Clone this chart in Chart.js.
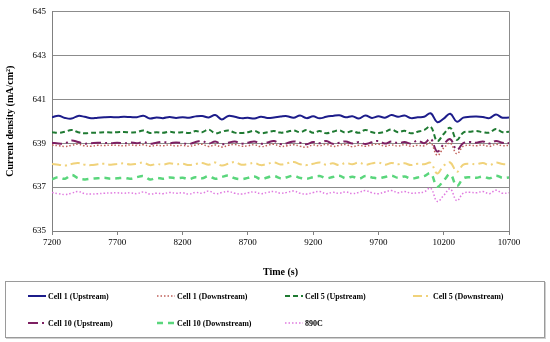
<!DOCTYPE html>
<html>
<head>
<meta charset="utf-8">
<script src="https://cdn.jsdelivr.net/npm/chart.js@4/dist/chart.umd.min.js"></script>
<style>
    html, body { margin: 0; padding: 0; background: #fff; }
    #wrap { position: relative; width: 550px; height: 342px; }
    #chartBox { position: absolute; left: 0; top: 0; width: 550px; height: 282px; }
    #legend {
        position: absolute; left: 5px; top: 281px; width: 538px; height: 55px;
        border: 1px solid #9a9a9a; box-shadow: 1px 1px 0 #cfcfcf;
        font-family: 'Liberation Serif', serif; font-size: 8px; font-weight: bold; color: #000;
    }
    .item { position: absolute; height: 12px; display: flex; align-items: center; white-space: nowrap; }
    .item svg { margin-right: 2px; }
</style>
</head>
<body>
<div id="wrap">
    <div id="chartBox"><canvas id="myChart" width="550" height="282"></canvas></div>
    <div id="legend"></div>
</div>
<script>
// time axis (s)
const times = [
    7200, 7250, 7300, 7350, 7400, 7450, 7500, 7550, 7600, 7650,
    7700, 7750, 7800, 7850, 7900, 7950, 8000, 8050, 8100, 8150,
    8200, 8250, 8300, 8350, 8400, 8450, 8500, 8550, 8600, 8650,
    8700, 8750, 8800, 8850, 8900, 8950, 9000, 9050, 9100, 9150,
    9200, 9250, 9300, 9350, 9400, 9450, 9500, 9550, 9600, 9650,
    9700, 9750, 9800, 9850, 9900, 9950, 10000, 10050, 10100, 10150,
    10200, 10250, 10300, 10350, 10400, 10450, 10500, 10550, 10600, 10650,
    10700
];

const xTicks = [7200, 7700, 8200, 8700, 9200, 9700, 10200, 10700];
const yTicks = [635, 637, 639, 641, 643, 645];

const cell1Up = [
    640.18, 640.25, 640.15, 640.12, 640.24, 640.20, 640.13, 640.16, 640.18, 640.19,
    640.18, 640.20, 640.19, 640.18, 640.25, 640.12, 640.17, 640.14, 640.19, 640.15,
    640.18, 640.16, 640.22, 640.24, 640.17, 640.28, 640.08, 640.24, 640.20, 640.14,
    640.16, 640.12, 640.20, 640.15, 640.17, 640.21, 640.23, 640.16, 640.26, 640.14,
    640.22, 640.13, 640.20, 640.24, 640.27, 640.18, 640.23, 640.12, 640.26, 640.15,
    640.22, 640.16, 640.28, 640.20, 640.26, 640.14, 640.18, 640.20, 640.36, 639.96,
    640.12, 640.34, 639.98, 640.16, 640.20, 640.21, 640.19, 640.14, 640.30, 640.16,
    640.17
];

const cell1Down = [
    638.92, 638.88, 638.85, 638.90, 638.95, 638.88, 638.86, 638.90, 638.89, 638.91,
    638.90, 638.88, 638.92, 638.89, 638.93, 638.86, 638.90, 638.88, 638.92, 638.87,
    638.90, 638.86, 638.92, 638.95, 638.85, 638.92, 638.82, 638.90, 638.94, 638.86,
    638.88, 638.93, 638.84, 638.90, 638.95, 638.85, 638.88, 638.93, 638.86, 638.82,
    638.92, 638.88, 638.95, 638.85, 638.90, 638.94, 638.84, 638.90, 638.86, 638.92,
    638.95, 638.86, 638.92, 638.87, 638.93, 638.86, 638.90, 638.88, 639.02, 638.45,
    638.78, 639.00, 638.52, 638.86, 638.90, 638.88, 638.92, 638.85, 638.95, 638.88,
    638.90
];

const cell5Up = [
    639.50, 639.47, 639.52, 639.60, 639.50, 639.45, 639.47, 639.48, 639.50, 639.49,
    639.50, 639.51, 639.49, 639.50, 639.58, 639.46, 639.50, 639.47, 639.52, 639.48,
    639.50, 639.46, 639.55, 639.50, 639.62, 639.45, 639.52, 639.58, 639.48, 639.46,
    639.50, 639.56, 639.45, 639.50, 639.55, 639.48, 639.52, 639.58, 639.50, 639.60,
    639.47, 639.55, 639.45, 639.52, 639.58, 639.48, 639.55, 639.47, 639.60, 639.50,
    639.46, 639.52, 639.62, 639.50, 639.56, 639.45, 639.52, 639.60, 639.75, 639.10,
    639.42, 639.70, 639.15, 639.48, 639.52, 639.55, 639.50, 639.48, 639.65, 639.50,
    639.52
];

const cell5Down = [
    638.05, 638.02, 637.98, 638.05, 638.10, 638.02, 638.00, 638.04, 638.06, 638.02,
    638.05, 638.08, 638.03, 638.06, 638.12, 638.00, 638.05, 638.02, 638.08, 638.04,
    638.06, 638.00, 638.05, 638.10, 638.02, 638.12, 637.98, 638.06, 638.14, 638.02,
    638.05, 638.10, 638.00, 638.06, 638.12, 638.03, 638.08, 638.14, 638.04, 638.00,
    638.06, 638.12, 638.02, 638.08, 638.00, 638.10, 638.04, 638.12, 638.02, 638.08,
    638.12, 638.02, 638.10, 638.04, 638.08, 638.00, 638.06, 638.04, 638.10, 637.62,
    637.98, 638.12, 637.70, 638.02, 638.06, 638.04, 638.10, 638.00, 638.12, 638.05,
    638.04
];

const cell10Up = [
    639.02, 638.98, 639.00, 639.12, 639.05, 638.98, 639.00, 639.02, 639.01, 639.00,
    639.02, 638.99, 639.03, 639.00, 639.05, 638.97, 639.02, 639.06, 639.00, 639.03,
    639.00, 638.96, 639.05, 639.10, 638.98, 639.08, 638.95, 639.02, 639.08, 638.98,
    639.02, 639.08, 638.97, 639.03, 639.10, 638.96, 639.00, 639.08, 639.02, 638.95,
    639.05, 639.00, 639.10, 638.97, 639.02, 639.08, 638.98, 639.05, 638.96, 639.04,
    639.10, 638.98, 639.08, 639.00, 639.05, 638.98, 639.12, 639.00, 639.20, 638.62,
    638.95, 639.18, 638.70, 639.00, 639.05, 639.02, 639.08, 638.98, 639.10, 639.02,
    639.00
];

const cell10Down = [
    637.35, 637.45, 637.38, 637.55, 637.40, 637.35, 637.38, 637.40, 637.42, 637.38,
    637.40, 637.42, 637.38, 637.45, 637.50, 637.35, 637.42, 637.38, 637.44, 637.40,
    637.42, 637.36, 637.45, 637.40, 637.50, 637.38, 637.46, 637.52, 637.40, 637.36,
    637.42, 637.48, 637.36, 637.44, 637.50, 637.40, 637.45, 637.52, 637.42, 637.38,
    637.45, 637.50, 637.40, 637.46, 637.52, 637.40, 637.47, 637.38, 637.50, 637.44,
    637.40, 637.46, 637.52, 637.42, 637.48, 637.38, 637.44, 637.50, 637.62, 637.02,
    637.30, 637.58, 637.05, 637.40, 637.45, 637.42, 637.48, 637.40, 637.52, 637.42,
    637.44
];

const sofc890 = [
    636.75, 636.70, 636.66, 636.72, 636.80, 636.70, 636.68, 636.70, 636.72, 636.73,
    636.74, 636.72, 636.74, 636.70, 636.78, 636.68, 636.72, 636.70, 636.75, 636.72,
    636.74, 636.68, 636.76, 636.72, 636.82, 636.70, 636.75, 636.80, 636.72, 636.68,
    636.74, 636.78, 636.70, 636.76, 636.80, 636.72, 636.76, 636.82, 636.72, 636.68,
    636.75, 636.80, 636.70, 636.76, 636.72, 636.78, 636.70, 636.76, 636.84, 636.74,
    636.70, 636.78, 636.84, 636.74, 636.80, 636.72, 636.74, 636.78, 636.95, 636.35,
    636.62, 636.92, 636.38, 636.72, 636.76, 636.74, 636.80, 636.70, 636.86, 636.72,
    636.74
];

const series = [
    { label: 'Cell 1 (Upstream)', data: cell1Up, color: '#1c1c8a', dash: [], width: 2 },
    { label: 'Cell 1 (Downstream)', data: cell1Down, color: '#c0605a', dash: [1.5, 2], width: 1.5 },
    { label: 'Cell 5 (Upstream)', data: cell5Up, color: '#1f7a32', dash: [5, 3], width: 2 },
    { label: 'Cell 5 (Downstream)', data: cell5Down, color: '#f0d27a', dash: [9, 4, 2, 4], width: 2 },
    { label: 'Cell 10 (Upstream)', data: cell10Up, color: '#7d1f62', dash: [10, 4, 2, 4], width: 2 },
    { label: 'Cell 10 (Downstream)', data: cell10Down, color: '#5ad67c', dash: [6, 5], width: 2.5 },
    { label: '890C', data: sofc890, color: '#e07ae0', dash: [1.5, 2], width: 1.5 },
];

const legendPos = [
    [22, 8], [151, 8], [279, 8], [407, 8],
    [22, 35], [151, 35], [279, 35]
];

const rightBorder = {
    id: 'rightBorder',
    afterDraw(chart) {
        const { ctx, chartArea } = chart;
        ctx.save();
        ctx.strokeStyle = '#8c8c8c';
        ctx.lineWidth = 1;
        ctx.beginPath();
        ctx.moveTo(Math.round(chartArea.right) + 0.5, chartArea.top);
        ctx.lineTo(Math.round(chartArea.right) + 0.5, chartArea.bottom);
        ctx.stroke();
        ctx.restore();
    }
};

const datasets = series.map(s => ({
    label: s.label,
    data: s.data.map((v, i) => ({ x: times[i], y: v })),
    borderColor: s.color,
    backgroundColor: s.color,
    borderDash: s.dash,
    borderWidth: s.width,
    pointRadius: 0,
    tension: 0.4,
    fill: false,
}));

const tickFont = { family: 'Liberation Serif', size: 9 };
const titleFont = { family: 'Liberation Serif', size: 10, weight: 'bold' };

new Chart(document.getElementById('myChart'), {
    type: 'line',
    data: { datasets },
    options: {
        responsive: false,
        animation: false,
        maintainAspectRatio: false,
        layout: { padding: { top: 7, right: 41, left: 0, bottom: 0 } },
        plugins: { legend: { display: false }, tooltip: { enabled: false } },
        scales: {
            x: {
                type: 'linear',
                min: 7200,
                max: 10700,
                afterBuildTicks: scale => { scale.ticks = xTicks.map(v => ({ value: v })); },
                afterFit: scale => { scale.height = 51; },
                ticks: { font: tickFont, color: '#000', maxRotation: 0, padding: 2, callback: v => String(v) },
                grid: { drawOnChartArea: false, tickLength: 4, color: '#808080' },
                border: { color: '#808080' },
                title: { display: true, text: 'Time (s)', font: titleFont, color: '#000', padding: { top: 14 } },
            },
            y: {
                min: 635,
                max: 645,
                afterBuildTicks: scale => { scale.ticks = yTicks.map(v => ({ value: v })); },
                afterFit: scale => { scale.width = 52; },
                ticks: { font: tickFont, color: '#000', padding: 6, callback: v => String(v) },
                grid: { color: '#8c8c8c', tickLength: 0 },
                border: { color: '#808080' },
                title: { display: true, text: 'Current density (mA/cm²)', font: titleFont, color: '#000', padding: { bottom: 4 } },
            }
        }
    },
    plugins: [rightBorder]
});

// legend laid out in columns like the original
const legendBox = document.getElementById('legend');
series.forEach((s, i) => {
    const [left, top] = legendPos[i];
    const item = document.createElement('div');
    item.className = 'item';
    item.style.left = left + 'px';
    item.style.top = top + 'px';
    const dash = s.dash.length ? s.dash.join(' ') : 'none';
    item.innerHTML =
        `<svg width="18" height="6"><line x1="0" y1="3" x2="18" y2="3" stroke="${s.color}" stroke-width="${s.width}" stroke-dasharray="${dash}"/></svg>` +
        `<span>${s.label}</span>`;
    legendBox.appendChild(item);
});
</script>
</body>
</html>
